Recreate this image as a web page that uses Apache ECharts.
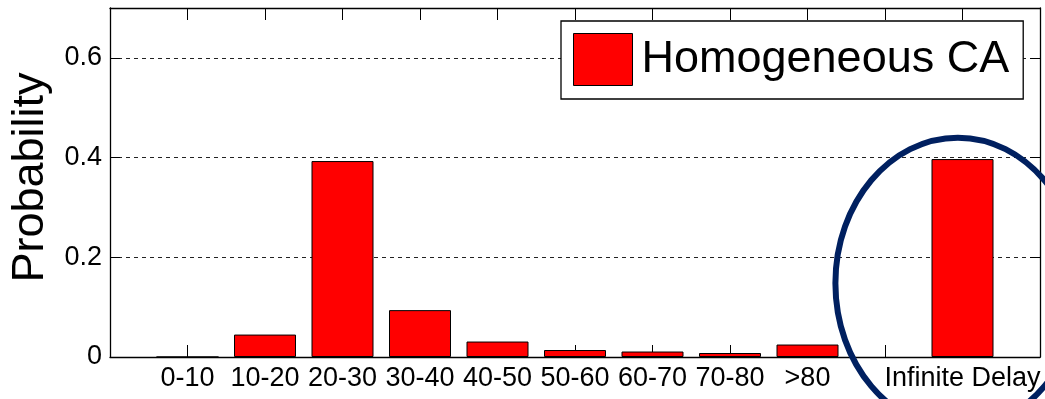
<!DOCTYPE html>
<html>
<head>
<meta charset="utf-8">
<title>Delay distribution</title>
<script src="https://cdn.jsdelivr.net/npm/echarts@6/dist/echarts.min.js"></script>
<style>
  html, body { margin: 0; padding: 0; background: #ffffff; }
  #chart { width: 1045px; height: 399px; }
</style>
</head>
<body>
<div id="chart"></div>
<script>
// Delay bins (the blank slot keeps a gap before the infinite-delay bar)
const categories = ['0-10', '10-20', '20-30', '30-40', '40-50', '50-60', '60-70', '70-80', '>80', '', 'Infinite Delay'];
// Probability of each delay bin
const probability = [0, 0.045, 0.393, 0.094, 0.031, 0.014, 0.011, 0.008, 0.025, null, 0.397];
const seriesName = 'Homogeneous CA';
const yTicks = [0, 0.2, 0.4, 0.6];
const yMax = 0.7;

// one empty slot on each side, as in a MATLAB bar plot whose x-limits are [0, n+1]
const axisCats = [''].concat(categories, ['']);
const axisData = [null].concat(probability, [null]);

const FONT = '"Liberation Sans", Arial, Helvetica, sans-serif';
const frame = { show: true, onZero: false, lineStyle: { color: '#000', width: 1.3 } };
const innerTick = { show: true, inside: true, length: 12, lineStyle: { color: '#000', width: 1 } };

const chart = echarts.init(document.getElementById('chart'), null, { renderer: 'canvas' });

chart.setOption({
  animation: false,
  backgroundColor: '#ffffff',
  grid: { left: 110, right: 5, top: 8, bottom: 42, containLabel: false },
  legend: {
    data: [seriesName],
    left: 561,
    top: 21,
    orient: 'horizontal',
    icon: 'rect',
    itemWidth: 59,
    itemHeight: 52,
    itemGap: 0,
    padding: [12, 14, 13, 12],
    backgroundColor: '#ffffff',
    borderColor: '#000',
    borderWidth: 1.3,
    borderRadius: 0,
    textStyle: {
      fontFamily: FONT,
      fontSize: 45,
      color: '#000',
      padding: [0, 0, 0, 4]
    },
    itemStyle: { borderColor: '#000', borderWidth: 1 }
  },
  xAxis: [
    {
      type: 'category',
      data: axisCats,
      boundaryGap: false,
      position: 'bottom',
      axisLine: frame,
      axisTick: Object.assign({ interval: 0 }, innerTick),
      axisLabel: {
        interval: 0,
        margin: 8,
        color: '#000',
        fontFamily: FONT,
        fontSize: 27
      },
      splitLine: { show: false }
    },
    {
      type: 'category',
      data: axisCats,
      boundaryGap: false,
      position: 'top',
      axisLine: frame,
      axisTick: Object.assign({ interval: 0 }, innerTick),
      axisLabel: { show: false },
      splitLine: { show: false }
    }
  ],
  yAxis: [
    {
      type: 'value',
      min: 0,
      max: yMax,
      interval: yTicks[1] - yTicks[0],
      position: 'left',
      name: 'Probability',
      nameLocation: 'middle',
      nameGap: 55,
      nameRotate: 90,
      nameTextStyle: { fontFamily: FONT, fontSize: 45, color: '#000', padding: [0, 0, 0, 10] },
      axisLine: frame,
      axisTick: Object.assign({}, innerTick, { length: 10 }),
      axisLabel: {
        showMaxLabel: false,
        margin: 8,
        color: '#000',
        fontFamily: FONT,
        fontSize: 27,
        formatter: function (v) { return yTicks.indexOf(Math.round(v * 10) / 10) >= 0 ? String(Math.round(v * 10) / 10) : ''; }
      },
      splitLine: { show: true, lineStyle: { color: '#222', width: 1, type: [4, 4] } }
    },
    {
      type: 'value',
      min: 0,
      max: yMax,
      interval: yTicks[1] - yTicks[0],
      position: 'right',
      axisLine: frame,
      axisTick: Object.assign({}, innerTick, { length: 10 }),
      axisLabel: { show: false },
      splitLine: { show: false }
    }
  ],
  series: [
    {
      name: seriesName,
      type: 'bar',
      xAxisIndex: 0,
      yAxisIndex: 0,
      data: axisData,
      barWidth: '80%',
      itemStyle: { color: '#ff0000', borderColor: '#000', borderWidth: 1 }
    }
  ]
});

// Highlight ring around the infinite-delay bar, placed in data coordinates
const idx = axisCats.indexOf('Infinite Delay');
const ringCenter = chart.convertToPixel({ xAxisIndex: 0, yAxisIndex: 0 }, [idx, 0.148]);
const ringLeft = chart.convertToPixel({ xAxisIndex: 0, yAxisIndex: 0 }, [idx - 1, 0.148]);
const ringTop = chart.convertToPixel({ xAxisIndex: 0, yAxisIndex: 0 }, [idx, 0.44]);
const band = ringCenter[0] - ringLeft[0];
chart.setOption({
  graphic: [{
    type: 'ellipse',
    z: 100,
    silent: true,
    shape: {
      cx: ringCenter[0] - band * 0.06,
      cy: ringCenter[1],
      rx: band * 1.58,
      ry: ringCenter[1] - ringTop[1]
    },
    style: { fill: null, stroke: '#002060', lineWidth: 6 }
  }]
});
</script>
</body>
</html>
